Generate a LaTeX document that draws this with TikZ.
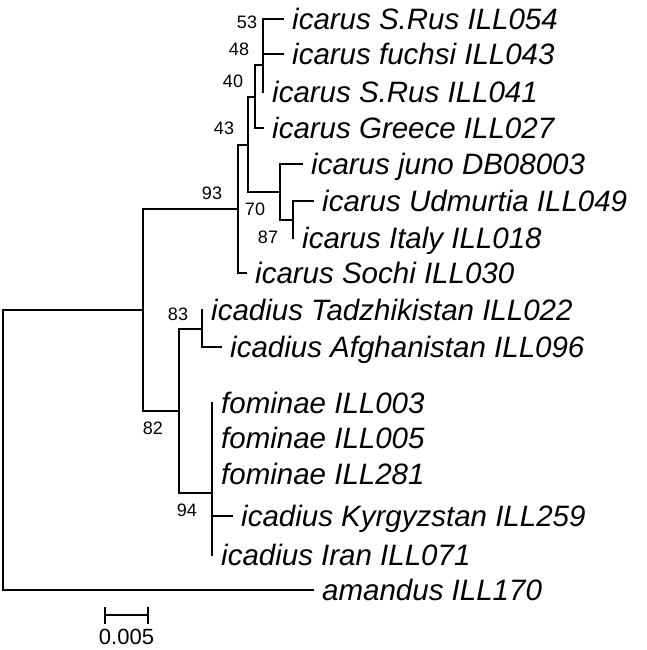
\documentclass[tikz,border=0pt]{standalone}
\usepackage{fontspec}
\setmainfont{Liberation Sans}
\usepackage{tikz}
\usetikzlibrary{arrows.meta}
\tikzset{
  branch/.style={line width=2.3pt,line cap=rect},
  leaf-label/.style={anchor=base west,inner sep=0pt,xshift=9pt,yshift=-10.5pt,
    font=\fontsize{29.5}{35}\selectfont\itshape},
  boot-label/.style={inner sep=0pt,font=\fontsize{18}{21}\selectfont},
  scale-bar/.style={line width=2.3pt,{Bar[width=17pt,line width=2.3pt]}-{Bar[width=17pt,line width=2.3pt]}},
}

\begin{document}
\begin{tikzpicture}[x=1pt,y=-1pt]
  \useasboundingbox (0,0) rectangle (647,650);
  % internal nodes
  \coordinate (root) at (3,450);
  \coordinate (ing)  at (143,310);
  \coordinate (n93)  at (238,209);
  \coordinate (n43)  at (248,145);
  \coordinate (n40)  at (255,97);
  \coordinate (n48)  at (263,65);
  \coordinate (n53)  at (263,37);
  \coordinate (n70)  at (280,192);
  \coordinate (n87)  at (293,220);
  \coordinate (n82)  at (179,411);
  \coordinate (n83)  at (202,329);
  \coordinate (n94)  at (212,493);
  % tips
  \coordinate (t054) at (283,19);
  \coordinate (t043) at (283,54);
  \coordinate (t041) at (263,92);
  \coordinate (t027) at (263,128);
  \coordinate (tdb)  at (302,164);
  \coordinate (t049) at (313,201);
  \coordinate (t018) at (293,238);
  \coordinate (t030) at (246,273);
  \coordinate (t022) at (202,310);
  \coordinate (t096) at (221,347);
  \coordinate (t003) at (212,403);
  \coordinate (t005) at (212,438);
  \coordinate (t281) at (212,474);
  \coordinate (t259) at (232,516);
  \coordinate (t071) at (212,555);
  \coordinate (t170) at (313,590);
  % leaf names
  \node[leaf-label] (l054) at (t054) {icarus S.Rus ILL054};
  \node[leaf-label] (l043) at (t043) {icarus fuchsi ILL043};
  \node[leaf-label] (l041) at (t041) {icarus S.Rus ILL041};
  \node[leaf-label] (l027) at (t027) {icarus Greece ILL027};
  \node[leaf-label] (ldb)  at (tdb)  {icarus juno DB08003};
  \node[leaf-label] (l049) at (t049) {icarus Udmurtia ILL049};
  \node[leaf-label] (l018) at (t018) {icarus Italy ILL018};
  \node[leaf-label] (l030) at (t030) {icarus Sochi ILL030};
  \node[leaf-label] (l022) at (t022) {icadius Tadzhikistan ILL022};
  \node[leaf-label] (l096) at (t096) {icadius Afghanistan ILL096};
  \node[leaf-label] (l003) at (t003) {fominae ILL003};
  \node[leaf-label] (l005) at (t005) {fominae ILL005};
  \node[leaf-label] (l281) at (t281) {fominae ILL281};
  \node[leaf-label] (l259) at (t259) {icadius Kyrgyzstan ILL259};
  \node[leaf-label] (l071) at (t071) {icadius Iran ILL071};
  \node[leaf-label] (l170) at (t170) {amandus ILL170};
  % bootstrap values
  \node[boot-label] (b53) at (247,22)  {53};
  \node[boot-label] (b48) at (239,49)  {48};
  \node[boot-label] (b40) at (233,81)  {40};
  \node[boot-label] (b43) at (224,128) {43};
  \node[boot-label] (b93) at (212,193) {93};
  \node[boot-label] (b70) at (255,209) {70};
  \node[boot-label] (b87) at (268,237) {87};
  \node[boot-label] (b83) at (178,314) {83};
  \node[boot-label] (b82) at (153,428) {82};
  \node[boot-label] (b94) at (187,510) {94};
  % branches
  \draw[branch] (root) |- (ing);
  \draw[branch] (root) |- (t170);
  \draw[branch] (ing) |- (n93);
  \draw[branch] (ing) |- (n82);
  \draw[branch] (n93) |- (n43);
  \draw[branch] (n93) |- (t030);
  \draw[branch] (n43) |- (n40);
  \draw[branch] (n43) |- (n70);
  \draw[branch] (n40) |- (n48);
  \draw[branch] (n40) |- (t027);
  \draw[branch] (n48) |- (n53);
  \draw[branch] (n48) |- (t041);
  \draw[branch] (n53) |- (t054);
  \draw[branch] (n53) |- (t043);
  \draw[branch] (n70) |- (tdb);
  \draw[branch] (n70) |- (n87);
  \draw[branch] (n87) |- (t049);
  \draw[branch] (n87) |- (t018);
  \draw[branch] (n82) |- (n83);
  \draw[branch] (n82) |- (n94);
  \draw[branch] (n83) |- (t022);
  \draw[branch] (n83) |- (t096);
  \foreach \t in {t003,t005,t281,t259,t071}
    \draw[branch] (n94) |- (\t);
  % scale bar
  \coordinate (sb0) at (104,615);
  \coordinate (sb1) at (149,615);
  \draw[scale-bar] (sb0) -- (sb1);
  \node[boot-label,font=\fontsize{22}{25}\selectfont] (sblabel) at (126.5,637) {0.005};
\end{tikzpicture}
\end{document}
